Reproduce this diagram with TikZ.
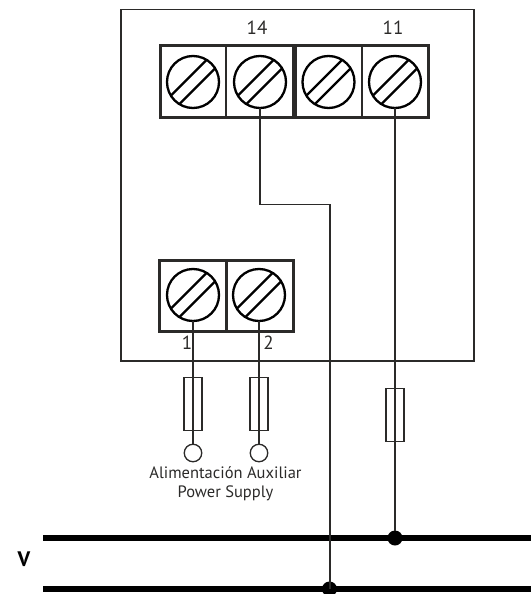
\documentclass[tikz,border=0pt]{standalone}
\usepackage{fontspec}
\setmainfont{PT Sans}
\definecolor{ink}{HTML}{2B2A29}
\tikzset{
  frame/.style={draw=ink,line width=1.5pt,fill=white},
  block/.style={draw=ink,line width=3pt,fill=white},
  divider/.style={draw=ink,line width=3pt},
  screw/.style={circle,draw=black,line width=2.3pt,minimum size=52pt,inner sep=0pt,outer sep=0pt},
  slot/.style={draw=black,line width=2.3pt},
  wire/.style={draw=ink,line width=1.5pt},
  fuse/.style={rectangle,draw=ink,line width=1.2pt,minimum width=18pt,minimum height=52.5pt,inner sep=0pt,outer sep=0pt},
  lug/.style={circle,draw=ink,line width=1.3pt,fill=white,minimum size=17.5pt,inner sep=0pt,outer sep=0pt},
  bus/.style={draw=black,line width=6pt},
  tap/.style={circle,fill=black,minimum size=15pt,inner sep=0pt,outer sep=0pt},
  lab/.style={text=ink,font=\fontsize{19}{20}\selectfont,inner sep=0pt},
  captiontext/.style={text=ink,font=\fontsize{16.5}{19}\selectfont,inner sep=0pt,align=center},
}
\newcommand{\slots}[1]{%
  \draw[slot] ([shift={(-13.66pt,-22.14pt)}]#1.center) -- ([shift={(22.14pt,13.66pt)}]#1.center);
  \draw[slot] ([shift={(-22.14pt,-13.66pt)}]#1.center) -- ([shift={(13.66pt,22.14pt)}]#1.center);
}
\begin{document}
\begin{tikzpicture}[x=1pt,y=-1pt]
\useasboundingbox (0,0) rectangle (531,594);
\node[frame,minimum width=353pt,minimum height=351.5pt,inner sep=0pt,outer sep=0pt,rectangle] (housing) at (297.5,185.25) {};
% upper terminal block
\node[block,rectangle,minimum width=268pt,minimum height=71pt,inner sep=0pt,outer sep=0pt] (topblock) at (294,81.5) {};
\draw[divider,line width=2.2pt] (226,46) -- (226,117);
\draw[divider,line width=5pt] (294,46) -- (294,117);
\draw[divider,line width=2.2pt] (362,46) -- (362,117);
\node[screw] (sA) at (193,82) {};
\node[screw] (s14) at (260,82) {};
\node[screw] (sB) at (328.5,82) {};
\node[screw] (s11) at (395,82) {};
\slots{sA}\slots{s14}\slots{sB}\slots{s11}
% lower terminal block
\node[block,rectangle,minimum width=134pt,minimum height=71pt,inner sep=0pt,outer sep=0pt] (lowblock) at (226,295.5) {};
\draw[divider] (226,260) -- (226,331);
\node[screw] (s1) at (193,295) {};
\node[screw] (s2) at (259,295) {};
\slots{s1}\slots{s2}
% buses
\coordinate (b1l) at (43,538); \coordinate (b1r) at (531,538);
\coordinate (b2l) at (43,589); \coordinate (b2r) at (531,589);
\coordinate (bend1) at (260,204.5); \coordinate (bend2) at (330,204.5);
\coordinate (t2) at (330,589);
\draw[bus] (b1l) -- (b1r);
\draw[bus] (b2l) -- (b2r);
\node[tap] (d1) at (395,538) {};
\node[tap] (d2) at (329.5,589) {};
% wires
\draw[wire] (s14.south) -- (bend1) -- (bend2) -- (t2);
\draw[wire] (s11.south) -- (d1);
\node[lug] (l1) at (193,453) {};
\node[lug] (l2) at (259,453) {};
\draw[wire] (s1.south) -- (l1.north);
\draw[wire] (s2.south) -- (l2.north);
\node[fuse] (f1) at (193,404) {};
\node[fuse] (f2) at (259,404) {};
\node[fuse] (f3) at (395,415) {};
\node[lab] (n14) at (257,28) {14};
\node[lab] (n11) at (393,28) {11};
\node[lab] (n1) at (187,343) {1};
\node[lab] (n2) at (268.5,343) {2};
\node[captiontext] (power) at (225.5,484) {Alimentación Auxiliar\\Power Supply};
\node[text=black,font=\bfseries\fontsize{21}{22}\selectfont,inner sep=0pt] (v) at (24,559) {V};
\end{tikzpicture}
\end{document}
